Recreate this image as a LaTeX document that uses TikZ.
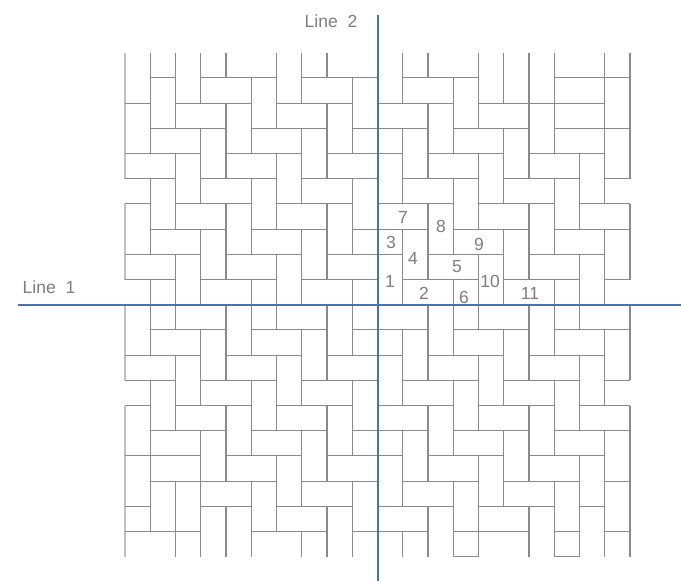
\documentclass[tikz,border=0pt]{standalone}
\usepackage{fontspec}
\setmainfont{Liberation Sans}
\definecolor{gridc}{HTML}{8A8A8A}
\definecolor{edgec}{HTML}{C0C0C0}
\definecolor{axisc}{HTML}{4675AE}
\definecolor{textc}{HTML}{7E7E7E}
\tikzset{
  brick/.style={draw=gridc,line width=1.15pt},
  brickedge/.style={draw=edgec,line width=1.15pt},
  axisline/.style={draw=axisc,line width=2.2pt},
  lab/.style={text=textc,font=\fontsize{17.5}{20}\selectfont,inner sep=0pt,anchor=center}
}
\begin{document}
\begin{tikzpicture}[x=1pt,y=1pt]
\useasboundingbox (0,0) rectangle (681,-581);
\fill[white] (0,0) rectangle (681,-581);
\begin{scope}[shift={(125,-52.7)},x=25.25pt,y=-25.2pt]
  % vertical walls: column / from row / to row
  \foreach \i/\a/\b in {
    1/0/4,1/5/8,1/9/10,2/0/3,2/4/7,2/8/10,3/0/2,3/3/6,3/7/10,4/0/1,4/2/5,4/6/9,
    5/1/4,5/5/8,5/9/10,6/0/3,6/4/7,6/8/10,7/0/2,7/3/6,7/7/10,8/0/1,8/2/5,8/6/9,
    9/1/4,9/5/8,9/9/10,
    11/0/2,11/3/6,11/7/10,12/0/1,12/2/5,12/6/9,13/1/4,13/5/8,13/9/10,
    14/0/3,14/4/7,14/8/10,15/0/2,15/3/6,15/7/10,16/0/5,16/6/9,17/0/4,17/5/8,17/9/10,
    18/4/7,18/8/10,19/0/6,19/7/10,20/0/5,20/6/9,
    1/10/12,1/13/19,2/10/11,2/12/15,2/17/20,3/11/14,3/15/20,4/10/13,4/14/17,4/18/20,
    5/10/12,5/13/16,5/17/20,6/10/11,6/12/15,6/16/19,7/11/14,7/15/18,7/19/20,
    8/10/13,8/14/17,8/18/20,9/10/12,9/13/16,9/17/20,
    11/11/14,11/15/18,11/19/20,12/10/13,12/14/17,12/18/20,13/10/12,13/13/16,13/17/20,
    14/10/11,14/12/15,14/16/20,15/11/14,15/15/18,16/10/13,16/14/17,16/18/20,
    17/10/12,17/13/16,17/17/20,18/10/11,18/12/15,18/16/20,19/11/14,19/15/20,
    20/10/13,20/14/20}
    {\draw[brick] (\i,\a) -- (\i,\b);}
  \foreach \a/\b in {0/5,6/9,10/13,14/20}
    {\draw[brickedge] (0,\a) -- (0,\b);}
  % horizontal walls: row / from column / to column
  \foreach \j/\a/\b in {
    1/1/2,1/3/6,1/7/10,1/11/14,1/17/20,
    2/0/1,2/2/5,2/6/9,2/10/13,2/14/19,
    3/1/4,3/5/8,3/9/12,3/13/16,3/17/20,
    4/0/3,4/4/7,4/8/11,4/12/15,4/16/19,
    5/0/2,5/3/6,5/7/10,5/11/14,5/15/18,5/19/20,
    6/0/1,6/2/5,6/6/9,6/10/13,6/14/17,6/18/20,
    7/1/4,7/5/8,7/9/12,7/13/16,7/17/20,
    8/0/3,8/4/7,8/8/11,8/12/15,8/16/19,
    9/0/2,9/3/6,9/7/10,9/11/14,9/15/18,9/19/20,
    11/1/4,11/5/8,11/9/12,11/13/16,11/17/20,
    12/0/3,12/4/7,12/8/11,12/12/15,12/16/19,
    13/0/2,13/3/6,13/7/10,13/11/14,13/15/18,13/19/20,
    14/0/1,14/2/5,14/6/9,14/10/13,14/14/17,14/18/20,
    15/1/4,15/5/8,15/9/12,15/13/16,15/17/20,
    16/0/3,16/4/7,16/8/11,16/12/15,16/16/19,
    17/1/6,17/7/10,17/11/14,17/15/18,17/19/20,
    18/0/1,18/3/5,18/6/9,18/10/13,18/14/17,18/18/19,
    19/0/3,19/5/8,19/9/12,19/13/16,19/17/18,19/19/20,
    20/13/14,20/17/18}
    {\draw[brick] (\a,\j) -- (\b,\j);}
\end{scope}
\coordinate (l1a) at (18,-304.6);
\coordinate (l1b) at (681,-304.6);
\coordinate (l2a) at (378,-15);
\coordinate (l2b) at (378,-581);
\draw[axisline] (l1a) -- (l1b);
\draw[axisline] (l2a) -- (l2b);
\node[lab] (line1) at (49,-287) {Line\ \ 1};
\node[lab] (line2) at (331,-21) {Line\ \ 2};
\node[lab] (n1) at (390,-281) {1};
\node[lab] (n2) at (424,-293) {2};
\node[lab] (n3) at (391,-242) {3};
\node[lab] (n4) at (413,-258) {4};
\node[lab] (n5) at (457,-267) {5};
\node[lab] (n6) at (464,-297) {6};
\node[lab] (n7) at (403,-217) {7};
\node[lab] (n8) at (441,-226) {8};
\node[lab] (n9) at (479,-244) {9};
\node[lab] (n10) at (490,-281) {10};
\node[lab] (n11) at (530,-293) {11};
\end{tikzpicture}
\end{document}
